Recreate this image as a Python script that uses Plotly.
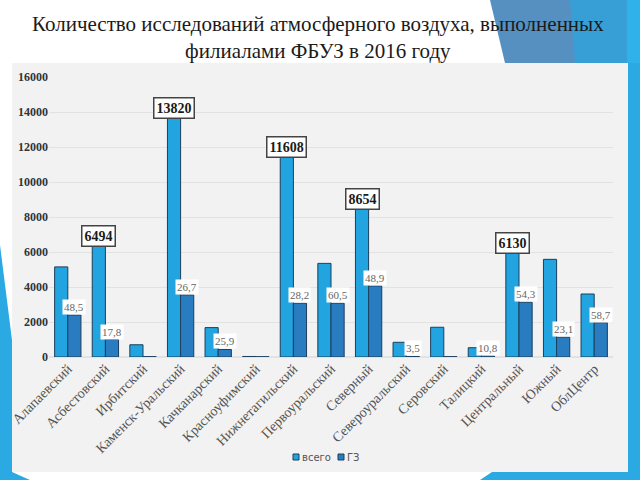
import plotly.graph_objects as go

categories = ["Алапаевский", "Асбестовский", "Ирбитский", "Каменск-Уральский",
              "Качканарский", "Красноуфимский", "Нижнетагильский", "Первоуральский",
              "Северный", "Североуральский", "Серовский", "Талицкий",
              "Центральный", "Южный", "ОблЦентр"]
total_values = [5150, 6494, 700, 13820, 1680, 30, 11608, 5350, 8654, 840, 1700, 530, 6130, 5580, 3600]
gz_values = [2400, 1000, 20, 3550, 430, 15, 3070, 3070, 4060, 30, 20, 57, 3130, 1130, 1960]
gz_pct_labels = ["48,5", "17,8", "", "26,7", "25,9", "", "28,2", "60,5", "48,9", "3,5", "", "10,8", "54,3", "23,1", "58,7"]
highlight_idx = [1, 3, 6, 8, 12]
y_ticks = [0, 2000, 4000, 6000, 8000, 10000, 12000, 14000, 16000]
y_tick_labels = ["0", "2000", "4000", "6000", "8000", "10000", "12000", "14000", "16000"]
series_names = ["всего", "ГЗ"]
title_text = "Количество исследований атмосферного воздуха, выполненных<br>филиалами ФБУЗ в 2016 году"

W, H = 640, 480
L, R, T, B = 49, 613, 77, 357

def fx(px):
    return (px - L) / (R - L)

def fy(py):
    return (B - py) / (B - T)

def path(pts):
    s = "M " + " L ".join(f"{fx(x):.5f},{fy(y):.5f}" for x, y in pts) + " Z"
    return s

LIGHT = "#22a4e0"
DARK = "#2a7cc0"
EDGE = "#1c3f5c"

xs = list(range(len(categories)))
fig = go.Figure()
fig.add_trace(go.Bar(x=xs, y=total_values, name=series_names[0],
                     marker=dict(color=LIGHT, line=dict(color=EDGE, width=1)),
                     showlegend=False))
fig.add_trace(go.Bar(x=xs, y=gz_values, name=series_names[1],
                     marker=dict(color=DARK, line=dict(color=EDGE, width=1)),
                     showlegend=False))

shapes = []
shapes.append(dict(type="rect", xref="paper", yref="paper", x0=fx(12), x1=fx(628),
                   y0=fy(472), y1=fy(63), fillcolor="#f2f2f2", line=dict(width=0), layer="below"))
shapes.append(dict(type="path", xref="paper", yref="paper", path=path([(628, 0), (640, 0), (640, 480), (628, 480)]),
                   fillcolor="#2aa9e2", line=dict(width=0), layer="below"))
shapes.append(dict(type="path", xref="paper", yref="paper", path=path([(490, 0), (640, 0), (640, 63), (505, 63)]),
                   fillcolor="#5590c0", line=dict(width=0), layer="below"))
shapes.append(dict(type="path", xref="paper", yref="paper", path=path([(570, 0), (640, 0), (640, 63), (575, 63)]),
                   fillcolor="#379fd6", line=dict(width=0), layer="below"))
shapes.append(dict(type="path", xref="paper", yref="paper", path=path([(627, 0), (640, 0), (640, 63), (627, 63)]),
                   fillcolor="#2fb2ea", line=dict(width=0), layer="below"))
shapes.append(dict(type="path", xref="paper", yref="paper", path=path([(0, 245), (12, 340), (12, 472), (30, 480), (0, 480)]),
                   fillcolor="#2aa9e2", line=dict(width=0), layer="below"))
shapes.append(dict(type="path", xref="paper", yref="paper", path=path([(480, 480), (492, 472), (640, 472), (640, 480)]),
                   fillcolor="#2aa9e2", line=dict(width=0), layer="below"))
shapes.append(dict(type="rect", xref="paper", yref="paper", x0=fx(293), x1=fx(299), y0=fy(460), y1=fy(454),
                   fillcolor=LIGHT, line=dict(color=EDGE, width=1)))
shapes.append(dict(type="rect", xref="paper", yref="paper", x0=fx(338), x1=fx(344), y0=fy(460), y1=fy(454),
                   fillcolor=DARK, line=dict(color=EDGE, width=1)))

annotations = []
annotations.append(dict(text=title_text, xref="paper", yref="paper", x=fx(318), y=fy(37),
                        xanchor="center", yanchor="middle", showarrow=False, align="center",
                        font=dict(family="Liberation Serif", size=21, color="#1a1a1a")))
for i in highlight_idx:
    annotations.append(dict(x=i - 0.175, y=total_values[i], xref="x", yref="y", text=str(total_values[i]),
                            showarrow=False, yanchor="middle", yshift=7,
                            font=dict(family="Liberation Serif", size=14, color="#1a1a1a", weight="bold"),
                            bgcolor="white", bordercolor="#444", borderwidth=1.5, borderpad=2))
for i, lab in enumerate(gz_pct_labels):
    if lab:
        annotations.append(dict(x=i + 0.175, y=gz_values[i], xref="x", yref="y", text=lab,
                                showarrow=False, yanchor="middle", yshift=8,
                                font=dict(family="Liberation Serif", size=11, color="#666"),
                                bgcolor="white", borderpad=1))
annotations.append(dict(text=series_names[0], xref="paper", yref="paper", x=fx(300), y=fy(457),
                        xanchor="left", yanchor="middle", showarrow=False,
                        font=dict(family="DejaVu Sans", size=10, color="#555")))
annotations.append(dict(text=series_names[1], xref="paper", yref="paper", x=fx(345), y=fy(457),
                        xanchor="left", yanchor="middle", showarrow=False,
                        font=dict(family="DejaVu Sans", size=10, color="#555")))

fig.update_layout(
    width=W, height=H,
    margin=dict(l=L, r=W - R, t=T, b=H - B, pad=0, autoexpand=False),
    paper_bgcolor="white", plot_bgcolor="rgba(0,0,0,0)",
    barmode="group", bargap=0.3, bargroupgap=0,
    shapes=shapes, annotations=annotations,
    showlegend=False,
    xaxis=dict(range=[-0.5, len(categories) - 0.5], tickmode="array", tickvals=xs, ticktext=categories,
               tickangle=-45, showgrid=False, zeroline=False, showline=False, ticks="", automargin=False,
               tickfont=dict(family="Liberation Serif", size=14, color="#555")),
    yaxis=dict(range=[0, 16000], tickmode="array", tickvals=y_ticks, ticktext=y_tick_labels,
               showgrid=True, gridcolor="#e2e2e2", gridwidth=1, automargin=False,
               zeroline=True, zerolinecolor="#e2e2e2", showline=False, ticks="",
               tickfont=dict(family="Liberation Serif", size=12, color="#333", weight="bold")),
)

fig.write_html("out.html", config={"displayModeBar": False},
               post_script="document.body.style.margin='0';document.body.style.overflow='hidden';")
